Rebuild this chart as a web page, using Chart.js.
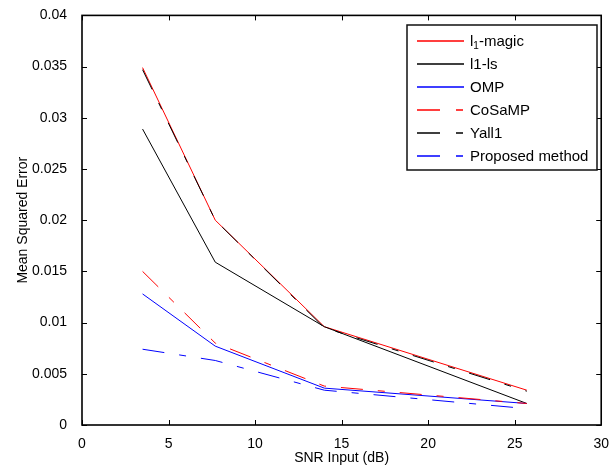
<!DOCTYPE html>
<html>
<head>
<meta charset="utf-8">
<script src="https://cdn.jsdelivr.net/npm/chart.js@4.4.1/dist/chart.umd.min.js"></script>
<style>
  html, body { margin:0; padding:0; background:#fff; }
  #wrap { width:612px; height:467px; }
</style>
</head>
<body>
<div id="wrap"><canvas id="chart" width="612" height="467"></canvas></div>
<script>
// SNR (dB) vs MSE
const snr = [3.5, 7.7, 14, 25.7];
const l1magic  = [0.0349, 0.0200, 0.0096, 0.0034];
const l1ls     = [0.0289, 0.0159, 0.0096, 0.0021];
const omp      = [0.0128, 0.0077, 0.0036, 0.0021];
const cosamp   = [0.0150, 0.0080, 0.0038, 0.0021];
const yall1    = [0.0347, 0.0200, 0.0095, 0.0033];
const proposed = [0.0074, 0.0063, 0.0034, 0.0016];

const xTickLabels = ["0","5","10","15","20","25","30"];
const yTickLabels = ["0","0.005","0.01","0.015","0.02","0.025","0.03","0.035","0.04"];
const seriesNames = ["l1-magic","l1-ls","OMP","CoSaMP","Yall1","Proposed method"];
const seriesColors = ["rgb(255,0,0)","rgb(0,0,0)","rgb(0,0,255)","rgb(255,0,0)","rgb(0,0,0)","rgb(0,0,255)"];
const seriesDashed = [false,false,false,true,true,true];

const FONT = "'Liberation Sans', Arial, Helvetica, sans-serif";
const DASHDOT = [22, 15, 7, 15];
const values = [l1magic, l1ls, omp, cosamp, yall1, proposed];

const pts = arr => snr.map((x,i)=> ({ x, y: arr[i] }));

// caixa + ticks internos (estilo MATLAB) e legenda dentro do gráfico
const matlabAxes = {
  id:"matlabAxes",
  afterDatasetsDraw(chart){
    const { ctx, chartArea:a, scales } = chart;
    const L = 5;
    ctx.save();
    ctx.strokeStyle = "#000";
    ctx.setLineDash([]);
    ctx.lineWidth = 1;
    ctx.beginPath();
    scales.x.ticks.forEach((t,i)=>{
      const px = Math.round(scales.x.getPixelForTick(i))+0.5;
      ctx.moveTo(px, a.bottom); ctx.lineTo(px, a.bottom-L);
      ctx.moveTo(px, a.top); ctx.lineTo(px, a.top+L);
    });
    scales.y.ticks.forEach((t,i)=>{
      const py = Math.round(scales.y.getPixelForTick(i))+0.5;
      ctx.moveTo(a.left, py); ctx.lineTo(a.left+L, py);
      ctx.moveTo(a.right, py); ctx.lineTo(a.right-L, py);
    });
    ctx.stroke();
    ctx.lineWidth = 1.6;
    ctx.strokeRect(a.left, a.top, a.right-a.left, a.bottom-a.top);
    ctx.restore();
  },
  afterDraw(chart){
    const { ctx } = chart;
    const bx = 407, by = 25, bw = 190, bh = 145;
    ctx.save();
    ctx.setLineDash([]);
    ctx.fillStyle = "#fff";
    ctx.fillRect(bx, by, bw, bh);
    ctx.strokeStyle = "#111";
    ctx.lineWidth = 1.5;
    ctx.strokeRect(bx, by, bw, bh);
    ctx.textBaseline = "middle";
    seriesNames.forEach((name,i)=>{
      const y = Math.round(41 + i*23);
      // amostra da linha (traço-ponto nas séries tracejadas)
      ctx.lineWidth = 1.3;
      ctx.strokeStyle = seriesColors[i];
      ctx.beginPath();
      if (seriesDashed[i]){
        ctx.moveTo(417, y); ctx.lineTo(440, y);
        ctx.moveTo(456, y); ctx.lineTo(463, y);
      } else {
        ctx.moveTo(417, y); ctx.lineTo(440, y);
        ctx.moveTo(440, y); ctx.lineTo(464, y);
      }
      ctx.stroke();
      ctx.fillStyle = "#000";
      ctx.font = "15px " + FONT;
      const ty = y + 0.5;
      if (i === 0){
        // l com índice 1
        ctx.fillText("l", 470, ty);
        const w = ctx.measureText("l").width;
        ctx.font = "10px " + FONT;
        ctx.fillText("1", 470 + w, ty + 5);
        const w1 = ctx.measureText("1").width;
        ctx.font = "15px " + FONT;
        ctx.fillText("-magic", 470 + w + w1, ty);
      } else {
        ctx.fillText(name, 470, ty);
      }
    });
    ctx.restore();
  }
};

new Chart(document.getElementById("chart"), {
  type:"line",
  data:{
    datasets: values.map((arr,i)=>({
      label: seriesNames[i],
      data: pts(arr),
      borderColor: seriesColors[i],
      borderDash: seriesDashed[i] ? DASHDOT : [],
      borderWidth: 1,
      pointRadius: 0,
      fill: false,
      tension: 0,
      order: values.length - 1 - i
    }))
  },
  options:{
    responsive:false,
    animation:false,
    layout:{ padding:{ left:0, top:15, right:9, bottom:0 } },
    plugins:{ legend:{ display:false }, tooltip:{ enabled:false } },
    scales:{
      x:{
        type:"linear", min:0, max:30,
        grid:{ display:false },
        border:{ display:false },
        ticks:{ stepSize:5, padding:3, color:"#000", font:{ family:FONT, size:14 },
                maxRotation:0, callback:(v,i)=> xTickLabels[i] },
        title:{ display:true, text:"SNR Input (dB)", color:"#000", padding:{ top:0, bottom:0 },
                font:{ family:FONT, size:14 } },
        afterFit: s => { s.height = 42; }
      },
      y:{
        type:"linear", min:0, max:0.04,
        grid:{ display:false },
        border:{ display:false },
        ticks:{ stepSize:0.005, padding:7, color:"#000", font:{ family:FONT, size:14 },
                callback:(v,i)=> yTickLabels[i] },
        title:{ display:true, text:"Mean Squared Error", color:"#000", padding:{ top:15, bottom:0 },
                font:{ family:FONT, size:14 } },
        afterFit: s => { s.width = 82; }
      }
    }
  },
  plugins:[matlabAxes]
});
</script>
</body>
</html>
